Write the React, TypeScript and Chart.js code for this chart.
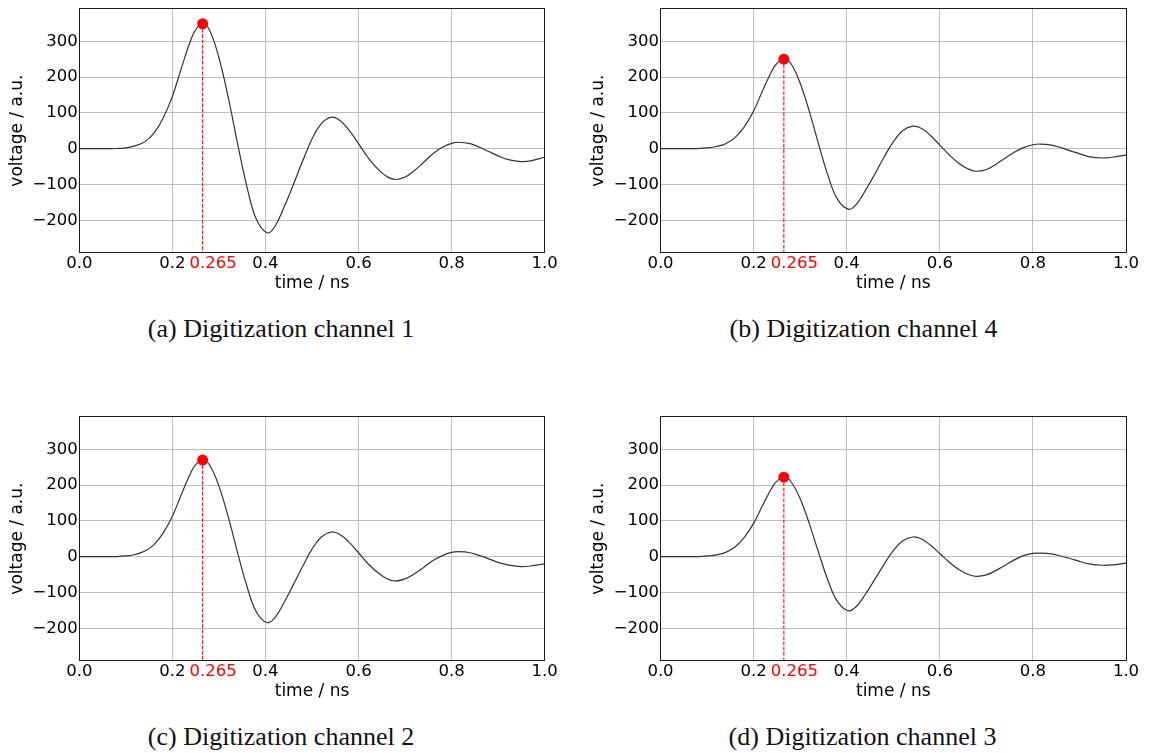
import React, { useEffect, useRef } from 'react';
import { Chart, registerables } from 'chart.js';

Chart.register(...registerables);

// ---- data ----
const TIME = [0, 0.05, 0.08, 0.1, 0.12, 0.14, 0.16, 0.18, 0.2, 0.22, 0.24, 0.25, 0.265, 0.28, 0.3, 0.32, 0.34, 0.36, 0.38, 0.403, 0.42, 0.44, 0.46, 0.48, 0.5, 0.52, 0.542, 0.56, 0.58, 0.6, 0.62, 0.64, 0.66, 0.678, 0.7, 0.72, 0.74, 0.76, 0.78, 0.8, 0.815, 0.84, 0.86, 0.88, 0.9, 0.92, 0.95, 0.97, 1.0];

const CHANNEL_1 = [0, 0, 0.5, 2.5, 8, 19, 43, 85, 146, 228, 305, 332, 349, 331, 254, 143, 15, -105, -196, -235, -218, -163, -100, -34, 27, 70, 88, 79, 51, 14, -24, -55, -77, -86, -79, -61, -38, -14, 4, 15, 18, 14, 4, -8, -20, -30, -36, -34, -24];
const CHANNEL_4 = [0, 0, 0.4, 2, 6, 14, 31, 61, 105, 164, 219, 238, 250, 238, 183, 103, 11, -76, -141, -169, -157, -117, -72, -24, 19, 50, 63, 57, 37, 10, -17, -40, -56, -63, -58, -44, -27, -10, 3, 11, 13, 10, 3, -6, -14, -22, -26, -24, -18];
const CHANNEL_2 = [0, 0, 0.4, 2, 6, 15, 33, 66, 113, 176, 236, 257, 270, 256, 197, 111, 12, -82, -153, -184, -171, -128, -78, -27, 21, 55, 69, 62, 40, 11, -19, -43, -61, -68, -62, -48, -30, -11, 3, 12, 14, 11, 3, -6, -16, -23, -28, -26, -20];
const CHANNEL_3 = [0, 0, 0.3, 2, 5, 12, 27, 54, 93, 145, 194, 211, 222, 210, 162, 91, 10, -67, -125, -151, -140, -105, -64, -22, 17, 44, 55, 50, 32, 9, -15, -35, -49, -55, -51, -39, -24, -9, 3, 9, 10, 8, 2, -5, -13, -20, -24, -23, -18];

const PEAK_TIME = 0.265;
const PEAK_LABEL = '0.265';
const X_TICKS = [0, 0.2, 0.265, 0.4, 0.6, 0.8, 1.0];
const Y_TICKS = [-200, -100, 0, 100, 200, 300];
const X_MIN = 0;
const X_MAX = 1;
const Y_MIN = -290;
const Y_MAX = 391;
const X_TITLE = 'time / ns';
const Y_TITLE = 'voltage / a.u.';
const CAPTIONS = [
  '(a) Digitization channel 1',
  '(b) Digitization channel 4',
  '(c) Digitization channel 2',
  '(d) Digitization channel 3',
];

// ---- layout ----
type Geo = { cx: number; cy: number; w: number; h: number; left: number; right: number; top: number; bottom: number; capX: number; capY: number };

const GEOS: Geo[] = [
  { cx: 0, cy: 0, w: 575, h: 300, left: 79.3, right: 544.7, top: 8.7, bottom: 252.5, capX: 281, capY: 337.3 },
  { cx: 581, cy: 0, w: 568, h: 300, left: 660.5, right: 1126, top: 8.7, bottom: 252.5, capX: 863.5, capY: 337.3 },
  { cx: 0, cy: 408, w: 575, h: 300, left: 79.3, right: 544.7, top: 416.7, bottom: 660.5, capX: 281, capY: 745.3 },
  { cx: 581, cy: 408, w: 568, h: 300, left: 660.5, right: 1126, top: 416.7, bottom: 660.5, capX: 862.5, capY: 745.3 },
];
const SERIES = [CHANNEL_1, CHANNEL_4, CHANNEL_2, CHANNEL_3];

const FONT = "'DejaVu Sans', sans-serif";
const TICK_SIZE = 16.5;
const TITLE_SIZE = 17;
const GRID_COLOR = '#bdbdbd';
const NBSP = '\u00a0';

const framePlugin = {
  id: 'frame',
  afterDatasetsDraw(chart: any) {
    const { ctx, chartArea: a } = chart;
    const al = (p: number) => Math.round(p - 0.5) + 0.5;
    ctx.save();
    ctx.strokeStyle = '#1a1a1a';
    ctx.lineWidth = 1;
    const l = al(a.left), r = al(a.right), t = al(a.top), b = al(a.bottom);
    ctx.strokeRect(l, t, r - l, b - t);
    ctx.restore();
  },
};

function Panel({ series, geo }: { series: number[]; geo: Geo }) {
  const ref = useRef<HTMLCanvasElement>(null);
  useEffect(() => {
    const peak = series[TIME.indexOf(PEAK_TIME)];
    const yWidth = geo.left - geo.cx;
    const xHeight = geo.cy + geo.h - geo.bottom;
    const yTitlePad = geo.left - 61.5 - geo.cx - (TITLE_SIZE * 1.2) / 2;
    const xTitlePad = geo.cy + geo.h - geo.bottom - 31 - (TITLE_SIZE * 1.2) / 2;
    const chart = new Chart(ref.current as HTMLCanvasElement, {
      type: 'line',
      data: {
        datasets: [
          {
            data: [{ x: PEAK_TIME, y: peak }],
            showLine: false,
            pointRadius: 5.5,
            pointBackgroundColor: '#ff0000',
            pointBorderWidth: 0,
            order: 0,
          } as any,
          {
            data: [{ x: PEAK_TIME, y: peak }, { x: PEAK_TIME, y: Y_MIN }],
            borderColor: '#ff0000',
            borderWidth: 1.1,
            borderDash: [3.7, 1.6],
            pointRadius: 0,
            order: 1,
          },
          {
            data: TIME.map((t, i) => ({ x: t, y: series[i] })),
            borderColor: '#333333',
            borderWidth: 1.2,
            pointRadius: 0,
            tension: 0.4,
            order: 2,
          },
        ],
      },
      options: {
        animation: false,
        responsive: true,
        maintainAspectRatio: false,
        events: [],
        layout: { padding: { left: 0, top: geo.top - geo.cy, right: geo.cx + geo.w - geo.right, bottom: 0 } },
        plugins: { legend: { display: false }, tooltip: { enabled: false } },
        scales: {
          x: {
            type: 'linear',
            min: X_MIN,
            max: X_MAX,
            afterBuildTicks: (s: any) => {
              s.ticks = X_TICKS.map((v) => ({ value: v }));
            },
            afterFit: (s: any) => {
              s.height = xHeight;
              s.paddingLeft = 0;
              s.paddingRight = 0;
              s.paddingTop = 0;
              s.paddingBottom = 0;
            },
            border: { display: false },
            grid: {
              color: (c: any) => (c.tick && c.tick.value === PEAK_TIME ? 'rgba(0,0,0,0)' : GRID_COLOR),
              lineWidth: 1,
              drawTicks: false,
            },
            ticks: {
              autoSkip: false,
              maxRotation: 0,
              minRotation: 0,
              padding: 1.5,
              font: { family: FONT, size: TICK_SIZE },
              color: (c: any) => (c.tick && c.tick.value === PEAK_TIME ? '#ff0000' : '#000000'),
              callback: (v: any) => (v === PEAK_TIME ? NBSP + NBSP + NBSP + NBSP + PEAK_LABEL : Number(v).toFixed(1)),
            },
            title: {
              display: true,
              text: X_TITLE,
              color: '#000000',
              font: { family: FONT, size: TITLE_SIZE },
              padding: { top: 0, bottom: xTitlePad },
            },
          },
          y: {
            type: 'linear',
            min: Y_MIN,
            max: Y_MAX,
            afterBuildTicks: (s: any) => {
              s.ticks = Y_TICKS.map((v) => ({ value: v }));
            },
            afterFit: (s: any) => {
              s.width = yWidth;
              s.paddingLeft = 0;
              s.paddingRight = 0;
              s.paddingTop = 0;
              s.paddingBottom = 0;
            },
            border: { display: false },
            grid: { color: GRID_COLOR, lineWidth: 1, drawTicks: false },
            ticks: {
              padding: 1.5,
              font: { family: FONT, size: TICK_SIZE },
              color: '#000000',
              callback: (v: any) => (Number(v) < 0 ? '\u2212' + Math.abs(Number(v)) : String(v)),
            },
            title: {
              display: true,
              text: Y_TITLE,
              color: '#000000',
              font: { family: FONT, size: TITLE_SIZE },
              padding: { top: yTitlePad, bottom: 0 },
            },
          },
        },
      } as any,
      plugins: [framePlugin],
    });
    return () => chart.destroy();
  }, []);
  return (
    <div style={{ position: 'absolute', left: geo.cx, top: geo.cy, width: geo.w, height: geo.h }}>
      <canvas ref={ref} />
    </div>
  );
}

export default function App() {
  return (
    <div style={{ position: 'absolute', left: 0, top: 0, width: 1149, height: 753, background: '#ffffff', overflow: 'hidden' }}>
      {GEOS.map((g, i) => (
        <Panel key={i} series={SERIES[i]} geo={g} />
      ))}
      {GEOS.map((g, i) => (
        <div
          key={'c' + i}
          style={{
            position: 'absolute',
            left: g.capX - 300,
            top: g.capY - 23.8,
            width: 600,
            textAlign: 'center',
            fontFamily: "'Liberation Serif', 'Times New Roman', serif",
            fontSize: 26,
            lineHeight: '30px',
            whiteSpace: 'nowrap',
            color: '#111111',
          }}
        >
          {CAPTIONS[i]}
        </div>
      ))}
    </div>
  );
}
